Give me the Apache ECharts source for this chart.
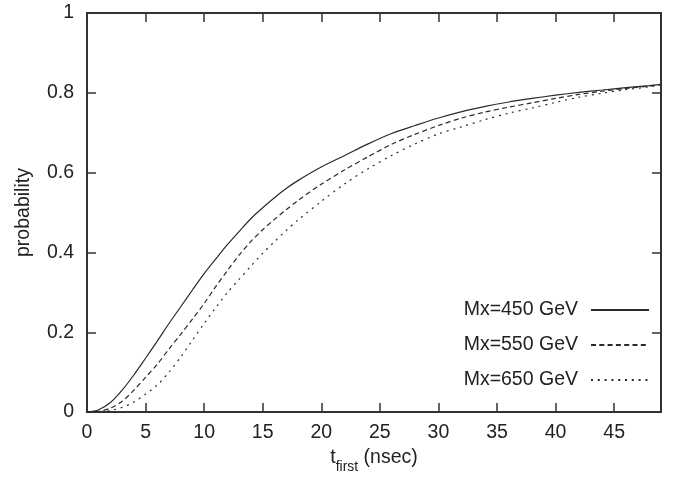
<!DOCTYPE html>
<html>
<head>
<meta charset="utf-8">
<script src="https://cdn.jsdelivr.net/npm/echarts@6/dist/echarts.min.js"></script>
<style>html,body{margin:0;padding:0;background:#fff}#c{width:673px;height:479px}</style>
</head>
<body>
<div id="c"></div>
<script>
var tFirst = [0,1,2,3,4,5,6,7,8,9,10,11,12,13,14,15,16,17,18,20,22,24,26,28,30,32,34,36,38,40,42,44,46,48,49];
var mx450 = [0,0.006,0.024,0.055,0.093,0.135,0.178,0.222,0.264,0.306,0.347,0.384,0.42,0.453,0.485,0.512,0.537,0.56,0.58,0.614,0.643,0.672,0.698,0.718,0.737,0.753,0.766,0.777,0.786,0.794,0.801,0.807,0.813,0.818,0.821];
var mx550 = [0,0.002,0.01,0.027,0.055,0.087,0.12,0.158,0.195,0.233,0.272,0.315,0.355,0.394,0.428,0.457,0.483,0.507,0.53,0.571,0.607,0.64,0.671,0.696,0.718,0.737,0.752,0.764,0.775,0.786,0.796,0.804,0.811,0.817,0.821];
var mx650 = [0,0.001,0.004,0.012,0.025,0.045,0.068,0.1,0.138,0.18,0.222,0.262,0.3,0.333,0.366,0.398,0.427,0.455,0.481,0.528,0.572,0.61,0.643,0.672,0.697,0.715,0.733,0.749,0.762,0.776,0.789,0.799,0.808,0.815,0.82];
var seriesNames = ['Mx=450 GeV','Mx=550 GeV','Mx=650 GeV'];
var xTicks = [0,5,10,15,20,25,30,35,40,45];
var yTicks = ['0','0.2','0.4','0.6','0.8','1'];

function pairs(ys){ return tFirst.map(function(t,i){ return [t, ys[i]]; }); }

var FONT = 'Liberation Sans, Arial, Helvetica, sans-serif';
var TXT = '#222';
var AX = '#333';
var chart = echarts.init(document.getElementById('c'), null, {renderer:'canvas'});
var lineCol = '#2a2a2a';
chart.setOption({
  animation: false,
  backgroundColor: '#fff',
  grid: {left: 87, right: 12, top: 13, bottom: 66},
  legend: {
    orient: 'vertical', right: 18, top: 295, align: 'right',
    itemWidth: 58, itemHeight: 14, itemGap: 15,
    itemStyle: {color: 'rgba(0,0,0,0)', borderWidth: 0, opacity: 0},
    textStyle: {fontFamily: FONT, fontSize: 19.5, color: TXT, padding: [0, 8, 0, 0]},
    data: seriesNames
  },
  xAxis: [{
    type: 'value', min: 0, max: 49, interval: 5, position: 'bottom',
    name: '{a|t}{s|first}{a| (nsec)}', nameLocation: 'middle', nameGap: 32,
    nameTextStyle: {
      rich: {
        a: {fontFamily: FONT, fontSize: 19.5, color: TXT, lineHeight: 26, verticalAlign: 'top'},
        s: {fontFamily: FONT, fontSize: 14, color: TXT, lineHeight: 16, verticalAlign: 'bottom'}
      }
    },
    axisLine: {show: true, onZero: false, lineStyle: {color: AX, width: 2}},
    axisTick: {show: true, inside: true, length: 9, lineStyle: {color: AX, width: 1.5}},
    axisLabel: {show: true, margin: 11, fontFamily: FONT, fontSize: 19.5, color: TXT, showMaxLabel: false,
      formatter: function(v){ return xTicks.indexOf(v) >= 0 ? String(v) : ''; }},
    splitLine: {show: false}
  },{
    type: 'value', min: 0, max: 49, interval: 5, position: 'top',
    axisLine: {show: true, onZero: false, lineStyle: {color: AX, width: 2}},
    axisTick: {show: true, inside: true, length: 9, lineStyle: {color: AX, width: 1.5}},
    axisLabel: {show: false}, splitLine: {show: false}
  }],
  yAxis: [{
    type: 'value', min: 0, max: 1, interval: 0.2, position: 'left',
    name: 'probability', nameLocation: 'middle', nameGap: 53, nameRotate: 90,
    nameTextStyle: {fontFamily: FONT, fontSize: 19.5, color: TXT},
    axisLine: {show: true, onZero: false, lineStyle: {color: AX, width: 2}},
    axisTick: {show: true, inside: true, length: 9, lineStyle: {color: AX, width: 1.5}},
    axisLabel: {show: true, margin: 13, fontFamily: FONT, fontSize: 19.5, color: TXT,
      formatter: function(v){ var i = Math.round(v/0.2); return yTicks[i] !== undefined ? yTicks[i] : ''; }},
    splitLine: {show: false}
  },{
    type: 'value', min: 0, max: 1, interval: 0.2, position: 'right',
    axisLine: {show: true, onZero: false, lineStyle: {color: AX, width: 2}},
    axisTick: {show: true, inside: true, length: 9, lineStyle: {color: AX, width: 1.5}},
    axisLabel: {show: false}, splitLine: {show: false}
  }],
  series: [
    {name: seriesNames[0], type: 'line', data: pairs(mx450), smooth: 0.3, symbol: 'none',
     lineStyle: {color: lineCol, width: 1.2, type: 'solid'}, itemStyle: {color: lineCol}},
    {name: seriesNames[1], type: 'line', data: pairs(mx550), smooth: 0.3, symbol: 'none',
     lineStyle: {color: lineCol, width: 1.2, type: [5, 3.3]}, itemStyle: {color: lineCol}},
    {name: seriesNames[2], type: 'line', data: pairs(mx650), smooth: 0.3, symbol: 'none',
     lineStyle: {color: lineCol, width: 1.2, type: [2, 4.8]}, itemStyle: {color: lineCol}}
  ]
});
</script>
</body>
</html>
